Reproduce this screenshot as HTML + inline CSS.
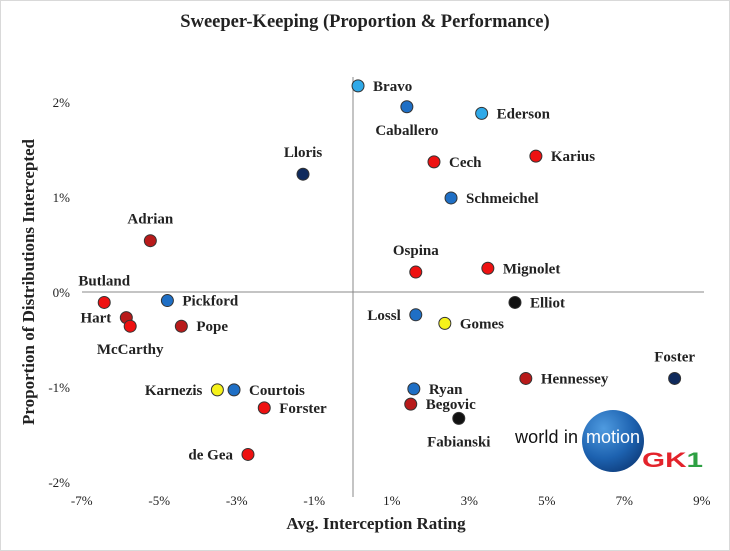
<!DOCTYPE html>
<html><head><meta charset="utf-8"><style>
html,body{margin:0;padding:0;background:#fff;}
svg{display:block;font-family:"Liberation Serif",serif;}
</style></head><body>
<svg id="chart" width="730" height="551" viewBox="0 0 730 551">
<defs>
<radialGradient id="globe" cx="0.35" cy="0.3" r="0.8">
<stop offset="0" stop-color="#4f9be0"/><stop offset="0.6" stop-color="#1d62b0"/><stop offset="1" stop-color="#0d3b7a"/>
</radialGradient>
</defs>
<rect x="0.5" y="0.5" width="729" height="550" fill="#fff" stroke="#d9d9d9"/>
<text x="365" y="27" text-anchor="middle" font-size="18.5" font-weight="bold" fill="#222">Sweeper-Keeping (Proportion &amp; Performance)</text>
<text x="376" y="529" text-anchor="middle" font-size="17" font-weight="bold" fill="#222">Avg. Interception Rating</text>
<text transform="translate(34,282) rotate(-90)" text-anchor="middle" font-size="17" font-weight="bold" fill="#222">Proportion of Distributions Intercepted</text>
<g id="axes"></g>
<g id="logo">
<circle cx="613" cy="441" r="31" fill="url(#globe)"/>
<text x="515" y="443" font-family="Liberation Sans, sans-serif" font-size="18" fill="#111" textLength="63">world in</text>
<text x="586" y="443" font-family="Liberation Sans, sans-serif" font-size="18" fill="#fff" textLength="54">motion</text>
<text x="642" y="467" font-family="Liberation Sans, sans-serif" font-size="21" font-weight="bold" fill="#e3232b" textLength="61" lengthAdjust="spacingAndGlyphs">GK<tspan fill="#2ea043">1</tspan></text>
</g>
<g id="marks"></g>
</svg>
<script>
const names = ["Bravo","Caballero","Ederson","Cech","Karius","Lloris","Schmeichel","Adrian","Ospina","Mignolet","Butland","Pickford","Elliot","Hart","McCarthy","Pope","Lossl","Gomes","Foster","Hennessey","Karnezis","Courtois","Ryan","Forster","Begovic","Fabianski","de Gea"];
const xValues = [0.13,1.39,3.32,2.09,4.72,-1.29,2.53,-5.23,1.62,3.48,-6.42,-4.79,4.18,-5.85,-5.75,-4.43,1.62,2.37,8.30,4.46,-3.50,-3.07,1.57,-2.29,1.49,2.73,-2.71];
const yValues = [2.17,1.95,1.88,1.37,1.43,1.24,0.99,0.54,0.21,0.25,-0.11,-0.09,-0.11,-0.27,-0.36,-0.36,-0.24,-0.33,-0.91,-0.91,-1.03,-1.03,-1.02,-1.22,-1.18,-1.33,-1.71];
const colorGroups = ["lb","b","lb","r","r","n","b","dr","r","r","r","b","k","dr","r","dr","b","y","n","dr","y","b","b","r","dr","k","r"];
const xTicks = [-7,-5,-3,-1,1,3,5,7,9];
const yTicks = [2,1,0,-1,-2];
const xTickLabels = ["-7%","-5%","-3%","-1%","1%","3%","5%","7%","9%"];
const yTickLabels = ["2%","1%","0%","-1%","-2%"];
// label placement: r=right, l=left, a=above, b=below
const labelPos = ["r","b","r","r","r","a","r","a","a","r","a","r","r","l","b","r","l","r","a","r","l","r","r","r","r","b","l"];

const palette = {lb:"#2fa9e8", b:"#1f6fc5", n:"#0f2a5c", r:"#ee1111", dr:"#b81a1a", k:"#111111", y:"#f6f21a"};
const X = v => 353 + v*38.75;
const Y = v => 292 - v*95;
const NS = "http://www.w3.org/2000/svg";
const axes = document.getElementById("axes");
const marks = document.getElementById("marks");

const hl = document.createElementNS(NS,"line");
hl.setAttribute("x1",82); hl.setAttribute("x2",704); hl.setAttribute("y1",Y(0)); hl.setAttribute("y2",Y(0));
hl.setAttribute("stroke","#888"); hl.setAttribute("stroke-width","1");


axes.appendChild(hl);
const vl = document.createElementNS(NS,"line");
vl.setAttribute("x1",X(0)); vl.setAttribute("x2",X(0)); vl.setAttribute("y1",77); vl.setAttribute("y2",Y(-2)+15);
vl.setAttribute("stroke","#888"); vl.setAttribute("stroke-width","1");


axes.appendChild(vl);

xTicks.forEach((t,i)=>{
  const tx = document.createElementNS(NS,"text");
  tx.setAttribute("x",X(t)); tx.setAttribute("y",505); tx.setAttribute("text-anchor","middle");
  tx.setAttribute("font-size","13"); tx.setAttribute("fill","#222");
  tx.textContent = xTickLabels[i];
  
  
  axes.appendChild(tx);
});
yTicks.forEach((t,i)=>{
  const tx = document.createElementNS(NS,"text");
  tx.setAttribute("x",70); tx.setAttribute("y",Y(t)+5); tx.setAttribute("text-anchor","end");
  tx.setAttribute("font-size","13"); tx.setAttribute("fill","#222");
  tx.textContent = yTickLabels[i];
  
  
  axes.appendChild(tx);
});

names.forEach((n,i)=>{
  const cx = X(xValues[i]), cy = Y(yValues[i]);
  const c = document.createElementNS(NS,"circle");
  c.setAttribute("cx",cx); c.setAttribute("cy",cy); c.setAttribute("r",6);
  c.setAttribute("fill",palette[colorGroups[i]]); c.setAttribute("stroke","#333"); c.setAttribute("stroke-width","1");
  
  
  marks.appendChild(c);
  const t = document.createElementNS(NS,"text");
  const p = labelPos[i];
  let tx = cx, ty = cy+5, anchor = "middle";
  if (p==="r"){tx = cx+15; anchor="start";}
  else if (p==="l"){tx = cx-15; anchor="end";}
  else if (p==="a"){ty = cy-17;}
  else {ty = cy+28;}
  t.setAttribute("x",tx); t.setAttribute("y",ty); t.setAttribute("text-anchor",anchor);
  t.setAttribute("font-size","15"); t.setAttribute("font-weight","bold"); t.setAttribute("fill","#222");
  t.textContent = n;
  
  
  marks.appendChild(t);
});
</script>
</body></html>
